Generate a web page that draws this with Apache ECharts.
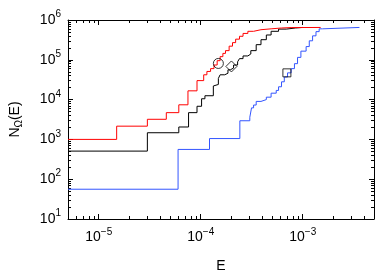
<!DOCTYPE html>
<html><head><meta charset="utf-8">
<script src="https://cdn.jsdelivr.net/npm/echarts@6/dist/echarts.min.js"></script>
<style>html,body{margin:0;padding:0;background:#fff}#c{width:382px;height:278px}</style>
</head><body><div id="c"></div>
<script>
// Step curves: E value where the count jumps, and the new count level
const redE   = [5e-6, 1.5e-5, 3.0e-5, 4.6e-5, 6.1e-5, 7.5e-5, 9.2e-5, 1.07e-4, 1.15e-4, 1.25e-4, 1.35e-4, 1.45e-4, 1.55e-4, 1.65e-4, 1.75e-4, 1.9e-4, 2.05e-4, 2.2e-4, 2.4e-4, 2.6e-4, 2.9e-4, 3.3e-4, 3.9e-4, 4.9e-4, 6.2e-4, 7.7e-4, 1.5e-3];
const redN   = [1000, 2150, 3200, 4700, 7400, 16600, 30000, 42000, 51000, 60000, 74000, 95000, 120000, 145000, 170000, 220000, 270000, 330000, 390000, 460000, 520000, 570000, 600000, 630000, 645000, 650000, 650000];
const blackE = [5e-6, 3.0e-5, 6.1e-5, 7.6e-5, 9.2e-5, 1.02e-4, 1.10e-4, 1.33e-4, 1.38e-4, 1.49e-4, 1.55e-4, 1.72e-4, 1.85e-4, 1.95e-4, 2.1e-4, 2.3e-4, 2.4e-4, 2.6e-4, 2.9e-4, 3.1e-4, 3.5e-4, 3.9e-4, 4.4e-4, 4.9e-4, 5.8e-4, 6.9e-4, 8.5e-4, 1.0e-3];
const blackN = [508, 1470, 2050, 4700, 6800, 10500, 12500, 22000, 24000, 34000, 42000, 46000, 56000, 62000, 74000, 89000, 107000, 125000, 140000, 170000, 240000, 320000, 420000, 520000, 590000, 630000, 650000, 650000];
const blueE  = [5e-6, 6.0e-5, 1.22e-4, 2.42e-4, 3.03e-4, 3.15e-4, 3.3e-4, 3.5e-4, 3.9e-4, 4.4e-4, 4.9e-4, 5.5e-4, 5.8e-4, 6.2e-4, 6.6e-4, 7.1e-4, 7.7e-4, 8.3e-4, 8.9e-4, 9.6e-4, 1.08e-3, 1.16e-3, 1.25e-3, 1.35e-3, 1.45e-3, 1.56e-3, 3.6e-3];
const blueN  = [56, 560, 1050, 2940, 3600, 6200, 7300, 9000, 10000, 11500, 14500, 17000, 21000, 28000, 37000, 47000, 60000, 80000, 115000, 165000, 215000, 300000, 400000, 510000, 600000, 650000, 650000];
// Markers
const circlePt  = [1.49e-4, 8.1e4];
const diamondPt = [2.0e-4, 6.8e4];
const squarePt  = [7.0e-4, 4.7e4];
// Axis ticks
const xMajor = [1e-5, 1e-4, 1e-3];
const yMajor = [1e1, 1e2, 1e3, 1e4, 1e5, 1e6];

function minors(lo, hi) {
  const out = [];
  for (let e = lo; e < hi; e++) for (let k = 2; k <= 9; k++) out.push(k * Math.pow(10, e));
  return out;
}
const xMinor = minors(-6, -2).filter(v => v > 5e-6 && v < 5e-3);
const yMinor = minors(1, 6);

const pairs = (a, b) => a.map((v, i) => [v, b[i]]);
const FONT = 'Liberation Sans';
const sup = v => {
  const e = Math.round(Math.log10(v));
  return '{b|10}{s|' + (e < 0 ? '\u2212' + (-e) : e) + '}';
};
const rich = {
  b: {fontSize: 14, fontFamily: FONT, color: '#000'},
  s: {fontSize: 10, fontFamily: FONT, color: '#000', padding: [0, 0, 11, 0]}
};

function xAx(pos, vals, len, labels, line) {
  return {
    type: 'log', logBase: 10, min: 5e-6, max: 5e-3, position: pos, gridIndex: 0,
    axisLine: {show: line, onZero: false, lineStyle: {color: '#000', width: 1}},
    axisTick: {show: true, inside: true, length: len, customValues: vals, lineStyle: {color: '#000', width: 1}},
    axisLabel: labels ? {show: true, customValues: vals, formatter: sup, rich: rich, margin: 8, fontFamily: FONT} : {show: false},
    splitLine: {show: false}, minorTick: {show: false}
  };
}
function yAx(pos, vals, len, labels, line) {
  return {
    type: 'log', logBase: 10, min: 10, max: 1e6, position: pos, gridIndex: 0,
    axisLine: {show: line, onZero: false, lineStyle: {color: '#000', width: 1}},
    axisTick: {show: true, inside: true, length: len, customValues: vals, lineStyle: {color: '#000', width: 1}},
    axisLabel: labels ? {show: true, customValues: vals, formatter: sup, rich: rich, margin: 7, fontFamily: FONT} : {show: false},
    splitLine: {show: false}, minorTick: {show: false}
  };
}

const xAxes = [xAx('bottom', xMajor, 5, true, true), xAx('bottom', xMinor, 3, false, false),
               xAx('top', xMajor, 5, false, true), xAx('top', xMinor, 3, false, false)];
xAxes[0].name = 'E';
xAxes[0].nameLocation = 'middle';
xAxes[0].nameGap = 40;
xAxes[0].nameTextStyle = {fontSize: 14, fontFamily: FONT, color: '#000'};

const yAxes = [yAx('left', yMajor, 5, true, true), yAx('left', yMinor, 3, false, false),
               yAx('right', yMajor, 5, false, true), yAx('right', yMinor, 3, false, false)];
yAxes[0].name = '{n|N}{u|\u03A9}{n|(E)}';
yAxes[0].nameLocation = 'middle';
yAxes[0].nameGap = 44;
yAxes[0].nameRotate = 90;
yAxes[0].nameTextStyle = {rich: {
  n: {fontSize: 14, fontFamily: FONT, color: '#000'},
  u: {fontSize: 10, fontFamily: FONT, color: '#000', padding: [8, 0, 0, 0]}
}};

function stepSeries(data, color) {
  return {type: 'line', step: 'end', data: data, xAxisIndex: 0, yAxisIndex: 0,
    showSymbol: false, symbol: 'none', lineStyle: {color: color, width: 1}, animation: false, z: 2};
}
function marker(pt, sym, size) {
  return {type: 'scatter', data: [pt], symbol: sym, symbolSize: size, xAxisIndex: 0, yAxisIndex: 0,
    itemStyle: {color: 'rgba(0,0,0,0)', borderColor: '#000', borderWidth: 1}, animation: false, z: 5};
}

const chart = echarts.init(document.getElementById('c'), null, {renderer: 'canvas'});
chart.setOption({
  animation: false,
  grid: {left: 64, right: 8, top: 20, bottom: 52, containLabel: false},
  xAxis: xAxes,
  yAxis: yAxes,
  series: [
    stepSeries(pairs(blackE, blackN), '#000000'),
    stepSeries(pairs(redE, redN), '#ff0000'),
    stepSeries(pairs(blueE, blueN), '#3355ff'),
    marker(circlePt, 'circle', 10),
    marker(diamondPt, 'diamond', 11),
    marker(squarePt, 'rect', 8)
  ]
});
</script></body></html>
